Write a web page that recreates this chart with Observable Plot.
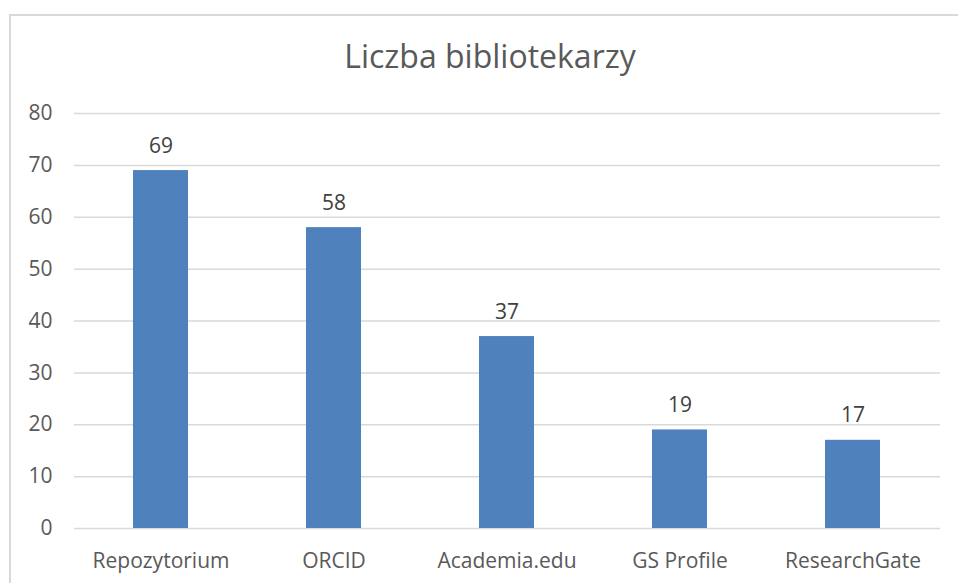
<!DOCTYPE html>
<html>
<head>
<meta charset="utf-8">
<script src="https://cdn.jsdelivr.net/npm/d3@7"></script>
<script src="https://cdn.jsdelivr.net/npm/@observablehq/plot@0.6"></script>
<style>
  html, body { margin: 0; padding: 0; background: #fff; }
  #wrap { position: relative; width: 958px; height: 583px; overflow: hidden; font-family: "Open Sans", sans-serif; }
  #frame { position: absolute; left: 9px; top: 14px; width: 2000px; height: 2000px;
           border-left: 2px solid #d9d9d9; border-top: 2px solid #d9d9d9; box-sizing: border-box; }
  #title { position: absolute; left: 0; width: 980px; top: 40px; text-align: center;
           font-size: 32px; color: #595959; line-height: 1; }
  #chart { position: absolute; left: 0; top: 0; }
</style>
</head>
<body>
<div id="wrap">
  <div id="frame"></div>
  <div id="title">Liczba bibliotekarzy</div>
  <div id="chart"></div>
</div>
<script>
const categories = ["Repozytorium", "ORCID", "Academia.edu", "GS Profile", "ResearchGate"];
const values = [69, 58, 37, 19, 17];
const yTicks = [0, 10, 20, 30, 40, 50, 60, 70, 80];

const data = categories.map((c, i) => ({category: c, value: values[i]}));

const plot = Plot.plot({
  width: 958,
  height: 583,
  marginTop: 113,
  marginBottom: 55,
  marginLeft: 74,
  marginRight: 18,
  style: {fontFamily: "Open Sans, sans-serif", background: "transparent", overflow: "visible"},
  x: {domain: categories, paddingInner: 0.68, paddingOuter: 0.34, label: null},
  y: {domain: [0, 80], label: null},
  marks: [
    Plot.gridY(yTicks, {stroke: "#d9d9d9", strokeOpacity: 1, strokeWidth: 1.5}),
    Plot.axisY(yTicks, {tickSize: 0, tickPadding: 22, fontSize: 21, fill: "#595959", label: null}),
    Plot.axisX({tickSize: 0, tickPadding: 25, fontSize: 21, fill: "#595959", label: null}),
    Plot.barY(data, {x: "category", y: "value", fill: "#4f81bd"}),
    Plot.text(data, {x: "category", y: "value", text: d => String(d.value), dy: -18, lineAnchor: "bottom", fontSize: 21, fill: "#404040"})
  ]
});
document.getElementById("chart").appendChild(plot);
</script>
</body>
</html>
